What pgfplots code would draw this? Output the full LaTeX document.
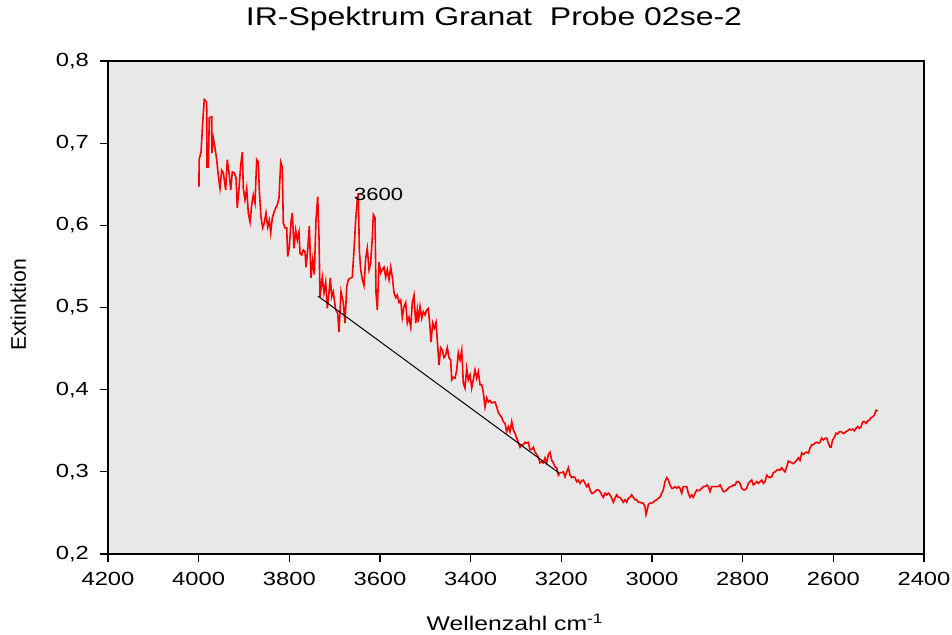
\documentclass[border=0pt]{standalone}
\usepackage{pgfplots}
\pgfplotsset{compat=1.18}
\usepackage{fontspec}
\setmainfont[FakeStretch=1.25]{Liberation Sans}
\newfontfamily\ylabfont{Liberation Sans}
\definecolor{plotbg}{RGB}{232,232,232}
\definecolor{specred}{RGB}{255,0,0}
\begin{document}
\begin{tikzpicture}
\useasboundingbox (-54pt,-40pt) rectangle (422pt,277pt);
\begin{axis}[
  at={(0pt,0pt)}, anchor=south west,
  scale only axis, width=408pt, height=246.5pt,
  xmin=2400, xmax=4200, ymin=0.2, ymax=0.8,
  x dir=reverse,
  xtick={2400,2600,2800,3000,3200,3400,3600,3800,4000,4200},
  ytick={0.2,0.3,0.4,0.5,0.6,0.7,0.8},
  scaled x ticks=false, scaled y ticks=false,
  axis background/.style={fill=plotbg},
  axis line style={black, line width=0.6pt},
  tick align=outside, xtick pos=left, ytick pos=left,
  major tick length=4pt,
  tick style={black, line width=0.6pt},
  ticklabel style={font=\fontsize{9.5}{11}\selectfont},
  xticklabel style={yshift=-1.5pt},
  yticklabel style={xshift=-2pt},
  /pgf/number format/.cd, use comma, fixed, precision=1, 1000 sep={}, assume math mode=true,
  /pgfplots/.cd,
  every axis title shift=0pt,
  title={IR-Spektrum Granat~~Probe 02se-2},
  title style={at={(0.473,1.085)}, anchor=center, font=\fontsize{12.8}{15}\selectfont},
  xlabel={Wellenzahl cm\textsuperscript{-1}},
  xlabel style={at={(0.499,-0.138)}, anchor=center, font=\fontsize{9.9}{12}\selectfont},
  ylabel={Extinktion},
  ylabel style={at={(-0.110,0.505)}, anchor=center, font=\ylabfont\fontsize{10.6}{12}\selectfont},
]
\addplot[specred, line width=0.8pt, line join=miter] coordinates {
(3999.3,0.647) (3999.0,0.680) (3994.8,0.689) (3990.4,0.731) (3987.6,0.753) (3982.3,0.750)
(3981.8,0.671) (3978.7,0.671) (3976.5,0.731) (3971.2,0.732) (3970.8,0.688) (3967.7,0.706)
(3963.9,0.694) (3960.2,0.680) (3956.7,0.661) (3952.9,0.645) (3949.2,0.667) (3945.6,0.664)
(3940.4,0.643) (3936.8,0.680) (3932.4,0.661) (3929.3,0.643) (3925.8,0.665) (3921.4,0.664)
(3917.6,0.658) (3914.8,0.621) (3911.0,0.645) (3907.3,0.673) (3903.7,0.689) (3901.5,0.645)
(3897.8,0.631) (3894.0,0.645) (3890.5,0.615) (3886.7,0.604) (3883.0,0.625) (3879.5,0.637)
(3875.7,0.627) (3872.0,0.680) (3868.4,0.677) (3866.2,0.643) (3862.5,0.610) (3858.7,0.597)
(3855.2,0.603) (3851.5,0.615) (3847.7,0.598) (3844.2,0.606)
(3841.1,0.591) (3837.5,0.609) (3833.8,0.616) (3830.0,0.621) (3826.5,0.625) (3822.8,0.633)
(3819.0,0.677) (3815.5,0.671) (3813.3,0.603) (3809.5,0.597) (3805.8,0.597) (3803.6,0.562)
(3800.0,0.574) (3796.3,0.604) (3793.4,0.615) (3789.7,0.572) (3785.9,0.594) (3782.4,0.582)
(3778.7,0.592) (3776.4,0.566) (3772.7,0.564) (3769.2,0.570) (3765.4,0.568) (3763.2,0.549)
(3759.5,0.570) (3755.9,0.599) (3752.2,0.536) (3748.4,0.558) (3744.9,0.540) (3741.2,0.606)
(3737.4,0.635) (3734.5,0.585) (3732.3,0.513) (3727.3,0.537) (3723.5,0.518) (3719.8,0.531)
(3716.2,0.499) (3712.5,0.518) (3709.6,0.536) (3706.5,0.513) (3703.0,0.519) (3697.7,0.497)
(3693.3,0.493) (3690.4,0.470) (3686.0,0.519) (3680.9,0.506) (3677.2,0.481)
(3673.4,0.525) (3669.9,0.534) (3664.6,0.536) (3661.1,0.537) (3657.3,0.570) (3653.6,0.607)
(3650.0,0.631) (3647.8,0.639) (3645.6,0.570) (3642.5,0.546) (3639.0,0.534) (3635.3,0.527)
(3631.5,0.560) (3628.0,0.572) (3624.2,0.546) (3620.5,0.554) (3617.0,0.585) (3614.7,0.613)
(3611.0,0.609) (3608.8,0.518) (3605.9,0.497) (3602.2,0.555) (3598.4,0.542) (3594.9,0.546)
(3591.1,0.549) (3587.4,0.537) (3583.9,0.546) (3580.1,0.534) (3576.4,0.549) (3572.8,0.537)
(3569.1,0.518) (3565.3,0.512) (3561.8,0.515) (3558.1,0.506) (3554.3,0.509) (3550.8,0.488)
(3547.0,0.501) (3543.3,0.506) (3539.7,0.481) (3536.0,0.488) (3532.2,0.476) (3528.7,0.506)
(3525.0,0.515) (3521.2,0.481) (3517.7,0.497)
(3515.5,0.482) (3511.7,0.501) (3508.0,0.487) (3504.5,0.495) (3500.7,0.491) (3497.0,0.497)
(3493.4,0.499) (3489.7,0.476) (3487.5,0.458) (3483.7,0.481) (3480.2,0.475) (3476.4,0.482)
(3473.6,0.460) (3469.8,0.430) (3466.1,0.451) (3462.5,0.448) (3458.8,0.439) (3455.0,0.442)
(3451.5,0.451) (3447.8,0.439) (3444.0,0.436) (3441.8,0.412) (3438.3,0.415) (3434.5,0.414)
(3430.8,0.424) (3427.2,0.445) (3423.5,0.436) (3419.7,0.448) (3416.2,0.408) (3412.5,0.402)
(3408.7,0.426) (3405.2,0.412) (3401.4,0.418) (3397.7,0.402) (3394.2,0.412) (3390.4,0.424)
(3386.7,0.414) (3383.1,0.422) (3379.4,0.406) (3375.6,0.406) (3372.1,0.397) (3368.3,0.379)
(3364.6,0.390) (3361.0,0.385) (3357.3,0.387) (3353.6,0.384)
(3346.3,0.385) (3342.5,0.379) (3339.0,0.372) (3335.2,0.369) (3331.5,0.366) (3328.0,0.361)
(3324.2,0.359) (3320.5,0.349) (3316.9,0.355) (3313.2,0.349) (3309.4,0.361) (3305.9,0.351)
(3302.2,0.347) (3298.4,0.341) (3294.9,0.336) (3291.1,0.330) (3287.4,0.333) (3283.9,0.333)
(3280.1,0.336) (3276.4,0.335) (3272.8,0.336) (3269.1,0.327) (3265.3,0.327) (3261.8,0.330)
(3258.1,0.324) (3254.3,0.321) (3250.8,0.318) (3247.0,0.311) (3243.3,0.312) (3239.7,0.311)
(3236.0,0.317) (3232.2,0.311) (3228.7,0.321) (3225.0,0.324) (3221.2,0.314) (3217.7,0.311)
(3213.9,0.306) (3210.2,0.305) (3206.6,0.296) (3202.9,0.299) (3199.1,0.299) (3195.6,0.300)
(3191.9,0.294) (3188.1,0.300) (3184.6,0.305) (3180.8,0.296) (3177.1,0.293) (3173.6,0.294)
(3169.8,0.293) (3166.1,0.288) (3162.5,0.290) (3158.8,0.286) (3155.0,0.289) (3151.5,0.290)
(3147.8,0.286) (3144.0,0.282) (3140.5,0.285)
(3136.7,0.278) (3133.0,0.274) (3129.4,0.274) (3125.7,0.276) (3121.9,0.278) (3118.4,0.278)
(3114.6,0.276) (3110.9,0.272) (3107.4,0.269) (3103.6,0.274) (3099.9,0.272) (3096.3,0.274)
(3092.6,0.272) (3088.8,0.268) (3085.3,0.263) (3081.6,0.268) (3077.8,0.272) (3074.3,0.269)
(3070.5,0.269) (3066.8,0.266) (3063.2,0.263) (3059.5,0.266) (3055.7,0.263) (3052.2,0.268)
(3048.5,0.269) (3044.7,0.272) (3041.2,0.269) (3037.4,0.266) (3033.7,0.266) (3030.1,0.263)
(3026.4,0.263) (3022.6,0.262) (3019.1,0.262) (3015.4,0.257) (3013.2,0.248) (3010.3,0.254)
(3008.1,0.260) (3004.3,0.262) (3000.6,0.262) (2997.1,0.263) (2993.3,0.265) (2989.6,0.266)
(2986.0,0.268) (2982.3,0.269) (2978.5,0.274) (2975.0,0.278) (2971.3,0.288) (2967.5,0.293)
(2964.0,0.290) (2960.2,0.284) (2956.5,0.280) (2953.0,0.280) (2949.2,0.282) (2945.5,0.280)
(2941.9,0.282) (2938.2,0.280) (2934.4,0.274) (2930.9,0.282) (2927.1,0.282) (2923.4,0.282)
(2919.8,0.274) (2916.1,0.269) (2912.3,0.272) (2908.8,0.269) (2905.1,0.274) (2901.3,0.278)
(2897.8,0.277) (2894.0,0.278) (2890.3,0.280) (2886.7,0.282)
(2883.0,0.282) (2879.3,0.284) (2875.7,0.282) (2872.0,0.276) (2868.3,0.282) (2864.6,0.282)
(2861.0,0.282) (2857.3,0.282) (2853.6,0.282) (2849.9,0.284) (2846.3,0.280) (2842.6,0.276)
(2838.9,0.276) (2835.2,0.278) (2831.6,0.280) (2827.9,0.282) (2824.2,0.282) (2820.5,0.284)
(2816.8,0.284) (2813.2,0.288) (2809.5,0.288) (2805.8,0.286) (2802.2,0.280) (2798.5,0.278)
(2794.8,0.278) (2791.1,0.280) (2787.4,0.286) (2783.8,0.288) (2780.1,0.290) (2776.4,0.284)
(2772.7,0.286) (2769.1,0.288) (2765.4,0.286) (2761.7,0.288) (2758.0,0.290) (2754.3,0.286)
(2750.7,0.288) (2747.0,0.296) (2743.3,0.294) (2739.6,0.293) (2736.0,0.294) (2732.3,0.299)
(2728.6,0.300) (2724.9,0.302) (2721.3,0.303) (2717.6,0.302) (2713.9,0.305) (2710.2,0.302)
(2706.6,0.300) (2702.9,0.306) (2699.2,0.313) (2695.5,0.312) (2691.9,0.311) (2688.2,0.310)
(2684.5,0.312) (2680.8,0.314) (2677.1,0.317) (2673.5,0.314) (2669.8,0.323) (2666.1,0.321)
(2662.4,0.323) (2658.8,0.324) (2655.1,0.323) (2651.4,0.329) (2647.7,0.333) (2644.1,0.333)
(2640.4,0.335) (2636.7,0.336) (2633.0,0.335) (2629.4,0.336) (2625.7,0.341) (2622.0,0.339)
(2618.3,0.341) (2614.6,0.341) (2611.0,0.335) (2607.3,0.330) (2605.1,0.330) (2601.4,0.339)
(2597.7,0.342) (2594.1,0.347) (2590.4,0.346) (2586.7,0.349) (2583.0,0.349) (2579.3,0.347)
(2575.7,0.347) (2572.0,0.349) (2568.3,0.350) (2564.6,0.352) (2561.0,0.351) (2557.3,0.352)
(2553.6,0.350) (2549.9,0.353) (2546.2,0.355) (2542.6,0.353) (2538.9,0.355) (2535.2,0.361)
(2531.5,0.361) (2527.8,0.359) (2524.2,0.362) (2520.5,0.363) (2516.8,0.366) (2513.1,0.367)
(2509.5,0.369) (2505.8,0.375) (2502.1,0.374)
};
\addplot[black, line width=0.5pt] coordinates {(3737,0.514) (3206,0.299)};
\node[font=\fontsize{8.8}{10}\selectfont, inner sep=0pt] at (axis cs:3603,0.6375) {3600};
\end{axis}
\end{tikzpicture}
\end{document}
